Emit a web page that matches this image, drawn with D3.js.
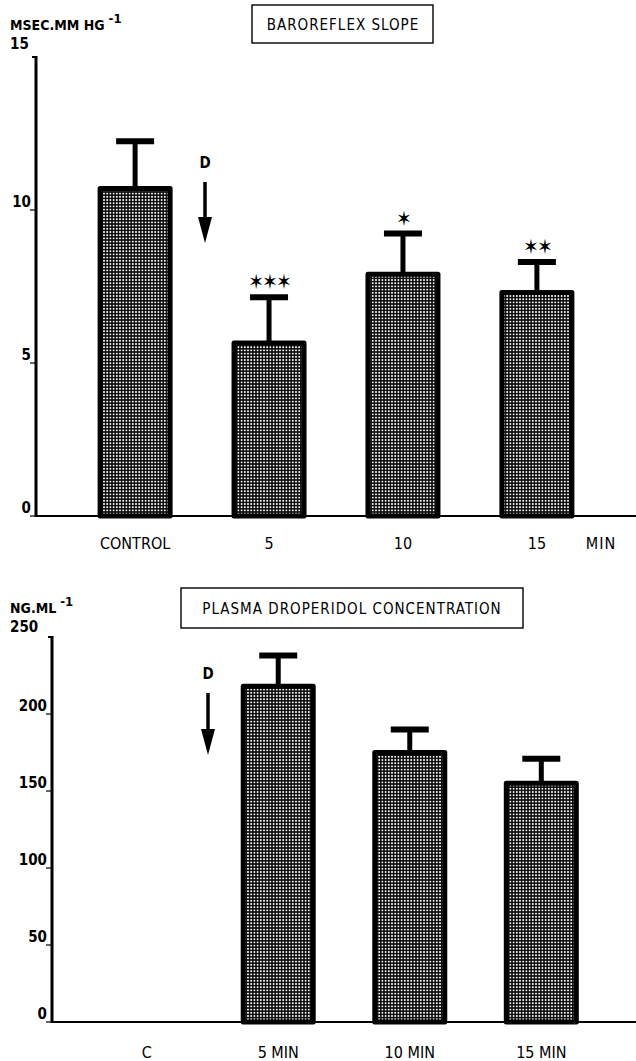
<!DOCTYPE html>
<html>
<head>
<meta charset="utf-8">
<script src="https://cdn.jsdelivr.net/npm/d3@7"></script>
<style>
  body { margin: 0; background: #fff; }
  text { font-family: "DejaVu Sans Condensed", "DejaVu Sans", sans-serif; fill: #000; }
  text.narrow { font-family: "Liberation Sans Narrow", "DejaVu Sans Condensed", sans-serif; }
</style>
</head>
<body>
<div id="chart"></div>
<script>
// Baroreflex slope panel
var slopeCategories = ["CONTROL", "5", "10", "15"];
var slopeMeans = [10.7, 5.65, 7.9, 7.3];
var slopeSem = [1.55, 1.5, 1.33, 1.0];
var slopeStars = ["", "✶✶✶", "✶", "✶✶"];
var slopeTicks = [0, 5, 10, 15];

// Plasma droperidol panel
var plasmaCategories = ["C", "5 MIN", "10 MIN", "15 MIN"];
var plasmaMeans = [null, 218, 175, 155];
var plasmaSem = [null, 20, 15, 16];
var plasmaTicks = [0, 50, 100, 150, 200, 250];

var width = 636, height = 1061;
var fs = 15;

var svg = d3.select("#chart").append("svg")
    .attr("width", width)
    .attr("height", height);

// dotted screen fill for the bars
var pat = svg.append("defs").append("pattern")
    .attr("id", "dots")
    .attr("patternUnits", "userSpaceOnUse")
    .attr("width", 3.2)
    .attr("height", 3.2);
pat.append("rect").attr("width", 3.2).attr("height", 3.2).attr("fill", "#111");
pat.append("rect").attr("x", 0.8).attr("y", 0.8).attr("width", 1.6).attr("height", 1.6).attr("fill", "#fff");

function drawPanel(opt) {
    var g = svg.append("g");

    var x = d3.scalePoint()
        .domain(opt.categories)
        .range([opt.axisX, width])
        .padding(opt.pad);

    var y = d3.scaleLinear()
        .domain([0, opt.max])
        .range([opt.bottom, opt.top]);

    // y axis line
    g.append("line")
        .attr("x1", opt.axisX).attr("x2", opt.axisX)
        .attr("y1", y(opt.max) - 1).attr("y2", y(0) + 1)
        .attr("stroke", "#000").attr("stroke-width", 3);
    g.append("line")
        .attr("x1", opt.axisX - 4).attr("x2", opt.axisX)
        .attr("y1", y(opt.max)).attr("y2", y(opt.max))
        .attr("stroke", "#000").attr("stroke-width", 2);

    // baseline
    g.append("line")
        .attr("x1", opt.axisX).attr("x2", width)
        .attr("y1", y(0)).attr("y2", y(0))
        .attr("stroke", "#000").attr("stroke-width", 2);

    // ticks
    opt.ticks.forEach(function (t, i) {
        var isTop = t === opt.max;
        if (!isTop) {
            g.append("line")
                .attr("x1", opt.axisX - 6).attr("x2", opt.axisX)
                .attr("y1", y(t)).attr("y2", y(t))
                .attr("stroke", "#000").attr("stroke-width", 1.2);
        }
        g.append("text")
            .attr("x", isTop ? 10 : opt.axisX - 5)
            .attr("y", isTop ? y(t) - opt.topLabelGap : y(t) - 3)
            .attr("text-anchor", isTop ? "start" : "end")
            .attr("font-size", fs)
            .attr("font-weight", "bold")
            .text(t);
    });

    // unit label
    var unit = g.append("text")
        .attr("x", 10)
        .attr("y", opt.unitY)
        .attr("font-size", 14)
        .attr("font-weight", "bold");
    unit.append("tspan").text(opt.unit);
    unit.append("tspan").attr("dy", -7).attr("dx", 4).attr("font-size", 13).text("-1");

    // title box
    g.append("text")
        .attr("x", opt.titleX)
        .attr("y", opt.titleY)
        .attr("text-anchor", "middle")
        .attr("font-size", fs)
        .attr("letter-spacing", 1)
        .text(opt.title);
    g.insert("rect", "text")
        .attr("x", opt.box[0])
        .attr("y", opt.box[1])
        .attr("width", opt.box[2] - opt.box[0])
        .attr("height", opt.box[3] - opt.box[1])
        .attr("fill", "none")
        .attr("stroke", "#000")
        .attr("stroke-width", 1.4);

    var barW = 70;
    var capW = 38;

    opt.categories.forEach(function (c, i) {
        var cx = x(c);
        var v = opt.means[i];
        if (v != null) {
            var top = v + opt.sem[i];
            // error stem
            g.append("line")
                .attr("x1", cx).attr("x2", cx)
                .attr("y1", y(v)).attr("y2", y(top))
                .attr("stroke", "#000").attr("stroke-width", 5);
            g.append("line")
                .attr("x1", cx - capW / 2).attr("x2", cx + capW / 2)
                .attr("y1", y(top)).attr("y2", y(top))
                .attr("stroke", "#000").attr("stroke-width", 6);
            g.append("rect")
                .attr("x", cx - barW / 2)
                .attr("y", y(v))
                .attr("width", barW)
                .attr("height", y(0) - y(v))
                .attr("fill", "url(#dots)")
                .attr("stroke", "#000")
                .attr("stroke-width", 5)
                .attr("stroke-linejoin", "round");
            if (opt.stars && opt.stars[i]) {
                g.append("text")
                    .attr("x", cx)
                    .attr("y", y(top) - 8)
                    .attr("text-anchor", "middle")
                    .attr("font-family", "DejaVu Sans")
                    .attr("font-size", 21)
                    .attr("letter-spacing", -2)
                    .text(opt.stars[i]);
            }
        }
        g.append("text")
            .attr("class", "narrow")
            .attr("x", cx)
            .attr("y", opt.labelY)
            .attr("text-anchor", "middle")
            .attr("font-size", 16)
            .text(c);
    });

    if (opt.extraLabel) {
        g.append("text")
            .attr("class", "narrow")
            .attr("x", opt.extraLabel.x)
            .attr("y", opt.labelY)
            .attr("text-anchor", "middle")
            .attr("font-size", 16)
            .attr("letter-spacing", 1)
            .text(opt.extraLabel.text);
    }

    // drug arrow
    g.append("text")
        .attr("x", opt.arrow.x)
        .attr("y", opt.arrow.y1 - 14)
        .attr("text-anchor", "middle")
        .attr("font-size", fs)
        .attr("font-weight", "bold")
        .text("D");
    g.append("line")
        .attr("x1", opt.arrow.x).attr("x2", opt.arrow.x)
        .attr("y1", opt.arrow.y1).attr("y2", opt.arrow.y2 - 20)
        .attr("stroke", "#000").attr("stroke-width", 3.5);
    g.append("path")
        .attr("d", d3.line()([
            [opt.arrow.x - 7, opt.arrow.y2 - 26],
            [opt.arrow.x + 7, opt.arrow.y2 - 26],
            [opt.arrow.x, opt.arrow.y2]
        ]) + "Z")
        .attr("fill", "#000");
}

drawPanel({
    categories: slopeCategories,
    means: slopeMeans,
    sem: slopeSem,
    stars: slopeStars,
    ticks: slopeTicks,
    max: 15,
    axisX: 36,
    pad: 0.74,
    top: 57,
    bottom: 516,
    topLabelGap: 8,
    unit: "MSEC.MM HG",
    unitY: 30,
    title: "BAROREFLEX SLOPE",
    titleX: 343,
    titleY: 30,
    box: [252, 5, 433, 43],
    labelY: 549,
    extraLabel: { x: 601, text: "MIN" },
    arrow: { x: 205, y1: 182, y2: 243 }
});

drawPanel({
    categories: plasmaCategories,
    means: plasmaMeans,
    sem: plasmaSem,
    ticks: plasmaTicks,
    max: 250,
    axisX: 52,
    pad: 0.72,
    top: 637,
    bottom: 1022,
    topLabelGap: 5,
    unit: "NG.ML",
    unitY: 613,
    title: "PLASMA DROPERIDOL CONCENTRATION",
    titleX: 352,
    titleY: 614,
    box: [181, 588, 523, 628],
    labelY: 1058,
    arrow: { x: 208, y1: 693, y2: 755 }
});
</script>
</body>
</html>
